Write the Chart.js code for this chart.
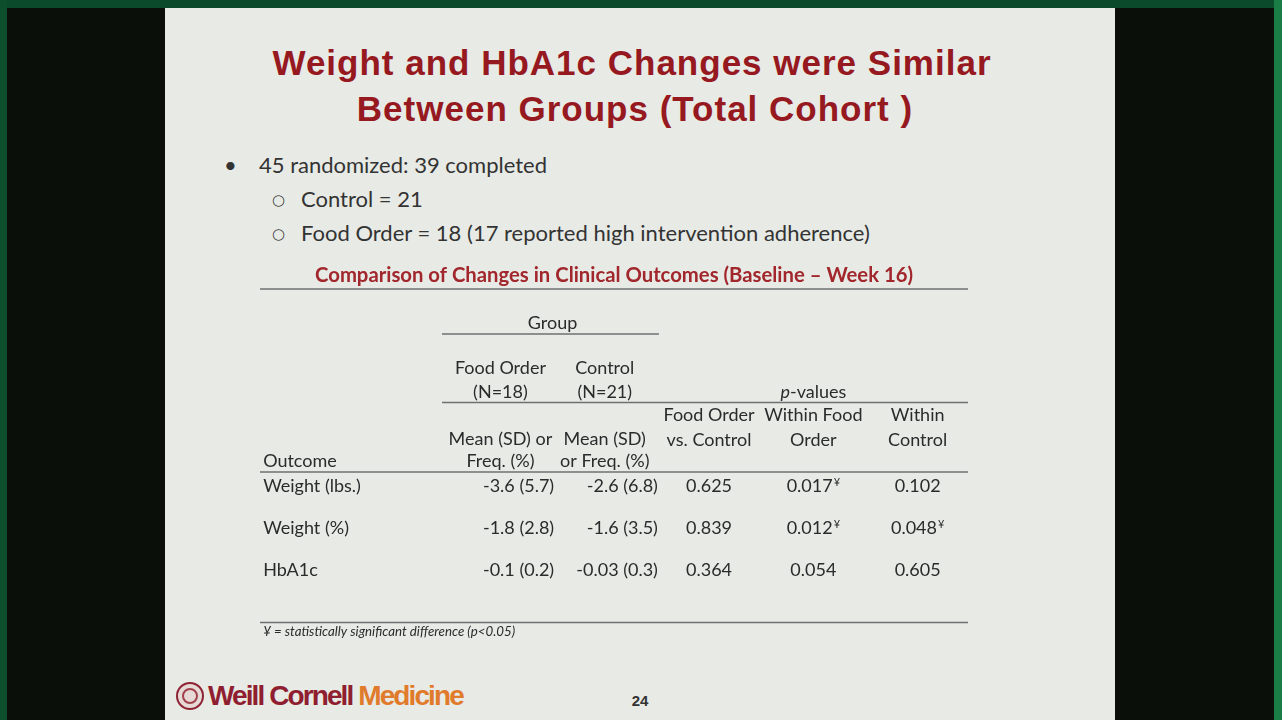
<!DOCTYPE html>
<html>
<head>
<meta charset="utf-8">
<script src="https://cdn.jsdelivr.net/npm/chart.js@4"></script>
<style>
  html, body { margin: 0; padding: 0; }
  body { width: 1282px; height: 720px; background: #0b0f0a; position: relative; overflow: hidden; }
  .frame-top { position: absolute; left: 0; top: 0; width: 1282px; height: 8px; background: #0b4a2b; }
  .frame-left { position: absolute; left: 0; top: 0; width: 7px; height: 720px; background: #0d4f2d; }
  .frame-right { position: absolute; left: 1274px; top: 0; width: 8px; height: 720px; background: #1a7d45; }
  .slide { position: absolute; left: 165px; top: 8px; width: 950px; height: 712px; background: #e8eae6; }
  .title { position: absolute; left: 0; width: 950px; text-align: center; font: bold 35px "Liberation Sans", Arial, sans-serif; letter-spacing: 1px; color: #96191f; line-height: 46px; white-space: nowrap; }
  .bullet { position: absolute; font: 22px Lato, "Open Sans", sans-serif; color: #333; line-height: 34px; white-space: nowrap; }
  .sub { position: absolute; font: 15px "DejaVu Sans", sans-serif; color: #444; line-height: 34px; }
  .logo { position: absolute; left: 43px; top: 674px; font: bold 28px "Liberation Sans", Arial, sans-serif; letter-spacing: -1.9px; line-height: 28px; white-space: nowrap; }
  .seal { position: absolute; left: 11px; top: 674px; width: 24px; height: 24px; border-radius: 50%; border: 2px solid #8e2333; background: #e6d9d6; }
  .seal::after { content: ""; position: absolute; left: 4px; top: 4px; width: 12px; height: 12px; border-radius: 50%; border: 2px solid #a0414d; }
  .pagenum { position: absolute; left: 460px; width: 30px; text-align: center; top: 685px; font: bold 15px "Liberation Sans", Arial, sans-serif; color: #333; line-height: 15px; }
  #table { position: absolute; left: 95px; top: 254px; }
</style>
</head>
<body>
<div class="frame-top"></div>
<div class="frame-left"></div>
<div class="frame-right"></div>
<div class="slide">
  <div class="title" style="top:32px; left:-8px;">Weight and HbA1c Changes were Similar</div>
  <div class="title" style="top:78px; left:-5px;">Between Groups (Total Cohort )</div>

  <div class="bullet" style="left:59px; top:140px;">•</div>
  <div class="bullet" style="left:94px; top:140px;">45 randomized: 39 completed</div>
  <div class="sub" style="left:107px; top:175px;">○</div>
  <div class="bullet" style="left:136px; top:174px;">Control = 21</div>
  <div class="sub" style="left:107px; top:209px;">○</div>
  <div class="bullet" style="left:136px; top:208px;">Food Order = 18 (17 reported high intervention adherence)</div>

  <canvas id="table" width="710" height="380"></canvas>

  <div class="seal"></div>
  <div class="logo"><span style="color:#8f1f30;">Weill Cornell</span> <span style="color:#e07b2c;">Medicine</span></div>
  <div class="pagenum">24</div>
</div>

<script>
// rows of the table
const outcomes = ['Weight (lbs.)', 'Weight (%)', 'HbA1c'];
// Food Order group (N=18), change baseline -> week 16
const foodOrderMean = [-3.6, -1.8, -0.1];
const foodOrderSD = [5.7, 2.8, 0.2];
// Control group (N=21)
const controlMean = [-2.6, -1.6, -0.03];
const controlSD = [6.8, 3.5, 0.3];
// p-values
const pFoodVsControl = [0.625, 0.839, 0.364];
const pWithinFood = [0.017, 0.012, 0.054];
const pWithinControl = [0.102, 0.048, 0.605];
const alpha = 0.05;

const fontBody = '18px Lato, "Open Sans", sans-serif';
const fontBold = 'bold 20.3px Lato, "Open Sans", sans-serif';
const fontMark = '11px Lato, "Open Sans", sans-serif';
const textColor = '#2b2b2b';
const ruleColor = '#6f6f6f';

const meanSD = (m, s) => m.map((v, i) => v + ' (' + s[i] + ')');
const pText = p => p.map(v => v.toFixed(3));
const sig = p => p.map(v => v < alpha);

function cellSet(col, texts, align, shift, marks) {
  return {
    data: texts.map((t, i) => ({ x: col, y: i })),
    cellText: texts,
    align: align,
    shift: shift,
    marks: marks || texts.map(() => false),
    pointRadius: 0,
    pointHoverRadius: 0
  };
}

// header texts; x in column units, dy in px from the first data row's baseline
const headers = [
  { t: 'Group', x: 1.5, dy: -163 },
  { t: 'Food Order', x: 1, dy: -118 },
  { t: '(N=18)', x: 1, dy: -94 },
  { t: 'Control', x: 2, dy: -118 },
  { t: '(N=21)', x: 2, dy: -94 },
  { t: 'Mean (SD) or', x: 1, dy: -47 },
  { t: 'Freq. (%)', x: 1, dy: -25 },
  { t: 'Mean (SD)', x: 2, dy: -47 },
  { t: 'or Freq. (%)', x: 2, dy: -25 },
  { t: 'Food Order', x: 3, dy: -71 },
  { t: 'vs. Control', x: 3, dy: -46 },
  { t: 'Within Food', x: 4, dy: -71 },
  { t: 'Order', x: 4, dy: -46 },
  { t: 'Within', x: 5, dy: -71 },
  { t: 'Control', x: 5, dy: -46 },
  { t: 'Outcome', x: -1.275, dy: -25, align: 'left' }
];
const rules = [
  { from: -1.305, to: 5.483, dy: -203 },
  { from: 0.44, to: 2.52, dy: -158 },
  { from: 0.44, to: 5.483, dy: -89.5 },
  { from: -1.305, to: 5.483, dy: -20 },
  { from: -1.305, to: 5.483, dy: 130.5 }
];

const tablePlugin = {
  id: 'tableCells',
  afterDatasetsDraw(chart) {
    const ctx = chart.ctx;
    const xs = chart.scales.x, ys = chart.scales.y;
    const unit = xs.getPixelForValue(1) - xs.getPixelForValue(0);
    const base = ys.getPixelForValue(0);
    ctx.save();
    ctx.textBaseline = 'alphabetic';

    // rules
    ctx.strokeStyle = ruleColor;
    ctx.lineWidth = 1.5;
    rules.forEach(r => {
      ctx.beginPath();
      ctx.moveTo(xs.getPixelForValue(r.from), base + r.dy);
      ctx.lineTo(xs.getPixelForValue(r.to), base + r.dy);
      ctx.stroke();
    });

    // table title
    ctx.font = fontBold;
    ctx.fillStyle = '#a1272c';
    ctx.textAlign = 'center';
    ctx.fillText('Comparison of Changes in Clinical Outcomes (Baseline \u2013 Week 16)',
      xs.getPixelForValue((-1.305 + 5.483) / 2), base - 210);

    // column headers
    ctx.font = fontBody;
    ctx.fillStyle = textColor;
    headers.forEach(h => {
      ctx.textAlign = h.align || 'center';
      ctx.fillText(h.t, xs.getPixelForValue(h.x), base + h.dy);
    });
    // "p-values" with italic p
    ctx.textAlign = 'left';
    ctx.font = 'italic ' + fontBody;
    const wp = ctx.measureText('p').width;
    ctx.font = fontBody;
    const wr = ctx.measureText('-values').width;
    const px0 = xs.getPixelForValue(4) - (wp + wr) / 2;
    ctx.font = 'italic ' + fontBody;
    ctx.fillText('p', px0, base - 94);
    ctx.font = fontBody;
    ctx.fillText('-values', px0 + wp, base - 94);

    // cells
    chart.data.datasets.forEach((ds, i) => {
      const meta = chart.getDatasetMeta(i);
      meta.data.forEach((pt, j) => {
        const txt = ds.cellText[j];
        const x = pt.x + ds.shift * unit;
        ctx.font = fontBody;
        const w = ctx.measureText(txt).width;
        let wm = 0;
        if (ds.marks[j]) {
          ctx.font = fontMark;
          wm = ctx.measureText('\u00a5').width + 1;
        }
        let left = x;
        if (ds.align === 'center') left = x - (w + wm) / 2;
        if (ds.align === 'right') left = x - w - wm;
        ctx.textAlign = 'left';
        ctx.font = fontBody;
        ctx.fillText(txt, left, pt.y);
        if (ds.marks[j]) {
          ctx.font = fontMark;
          ctx.fillText('\u00a5', left + w + 1, pt.y - 6);
        }
      });
    });

    // footnote
    ctx.font = 'italic 13.3px Lato, "Open Sans", sans-serif';
    ctx.textAlign = 'left';
    ctx.fillText('\u00a5 = statistically significant difference (p<0.05)', xs.getPixelForValue(-1.275), base + 144);
    ctx.restore();
  }
};

new Chart(document.getElementById('table'), {
  type: 'scatter',
  data: {
    datasets: [
      cellSet(0, outcomes, 'left', -1.275),
      cellSet(1, meanSD(foodOrderMean, foodOrderSD), 'right', 0.515),
      cellSet(2, meanSD(controlMean, controlSD), 'right', 0.51),
      cellSet(3, pText(pFoodVsControl), 'center', 0),
      cellSet(4, pText(pWithinFood), 'center', 0, sig(pWithinFood)),
      cellSet(5, pText(pWithinControl), 'center', 0, sig(pWithinControl))
    ]
  },
  options: {
    responsive: false,
    animation: false,
    layout: { padding: 0 },
    plugins: { legend: { display: false }, tooltip: { enabled: false } },
    scales: {
      x: { type: 'linear', min: -1.305, max: 5.502, display: false },
      y: { type: 'linear', min: -5.476, max: 3.571, reverse: true, display: false }
    }
  },
  plugins: [tablePlugin]
});
</script>
</body>
</html>
